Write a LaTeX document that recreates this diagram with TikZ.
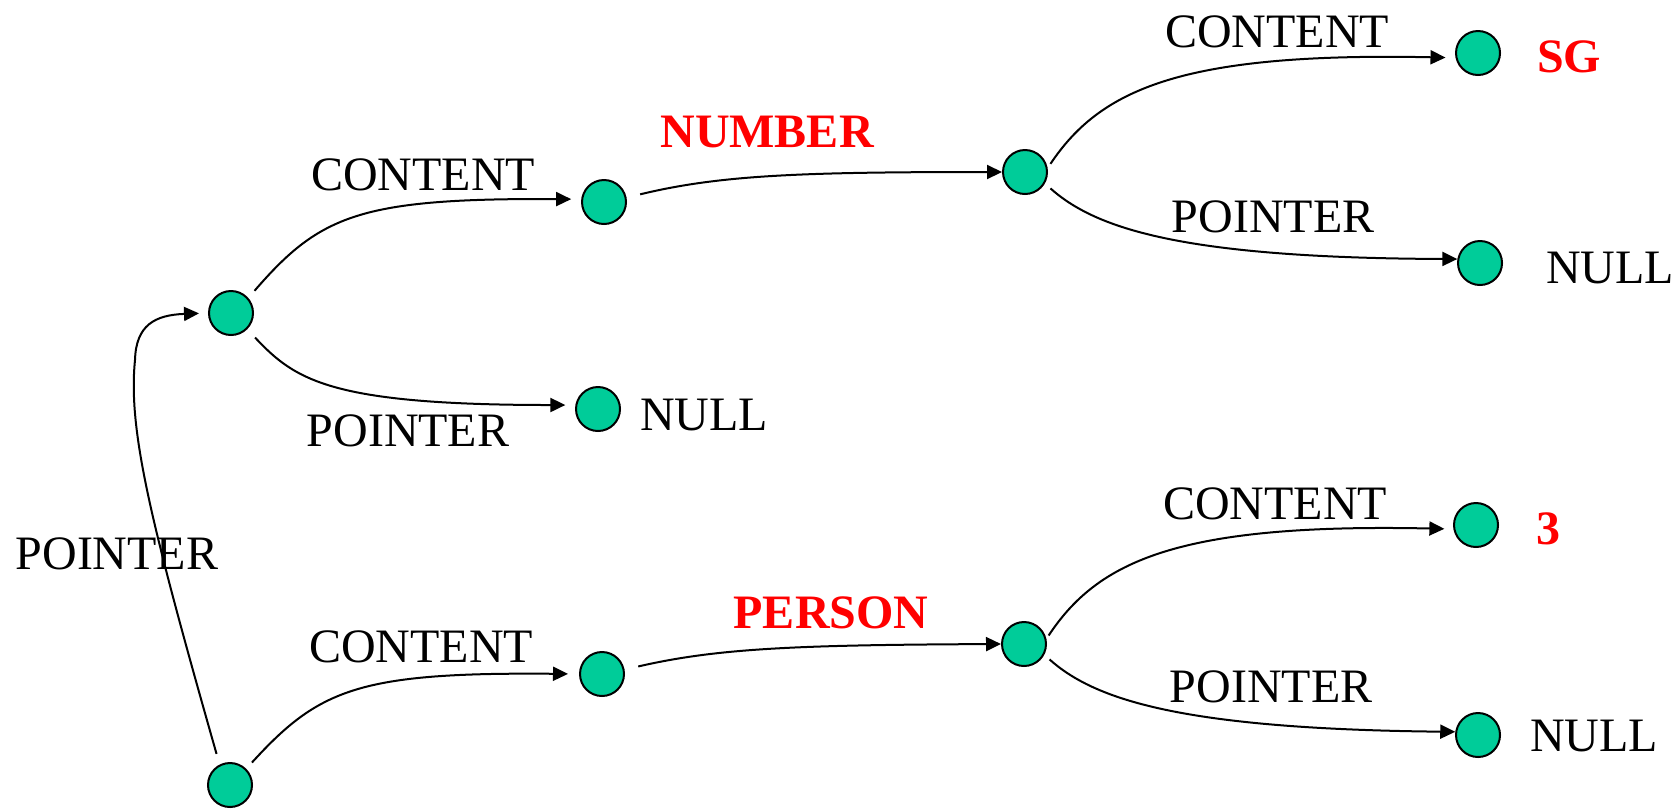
\documentclass[tikz,border=0pt]{standalone}
\usepackage{fontspec}
\setmainfont{Liberation Serif}
\usetikzlibrary{arrows.meta}
\definecolor{nodegreen}{RGB}{0,204,153}
\definecolor{lblred}{RGB}{255,0,0}
\begin{document}
\begin{tikzpicture}[x=0.5pt,y=-0.5pt,
  dot/.style={circle,draw=black,line width=1pt,fill=nodegreen,minimum size=22pt,inner sep=0pt},
  lbl/.style={inner sep=0pt,font=\fontsize{24}{28}\selectfont},
  redlbl/.style={inner sep=0pt,text=lblred,font=\fontsize{24}{28}\selectfont\bfseries},
  conn/.style={line width=1pt,-{Triangle[length=7.5pt,width=7pt]}}]
\path[use as bounding box] (0,0) rectangle (1679,810);

% nodes
\node[dot] (A) at (231,313) {};
\node[dot] (B) at (230,785) {};
\node[dot] (C) at (604,202) {};
\node[dot] (D) at (598,409) {};
\node[dot] (E) at (1025,172) {};
\node[dot] (F) at (1478,53) {};
\node[dot] (G) at (1480,263) {};
\node[dot] (H) at (602,674) {};
\node[dot] (I) at (1024,644) {};
\node[dot] (J) at (1476,525) {};
\node[dot] (K) at (1478,735) {};

% labels
\node[lbl] (lPtrLeft) at (117,554) {POINTER};
\node[lbl] (lContAC) at (423,175) {CONTENT};
\node[lbl] (lPtrAD) at (408,431) {POINTER};
\node[lbl] (lNullD) at (704,415) {NULL};
\node[redlbl] (lNumber) at (767,132) {NUMBER};
\node[lbl] (lContEF) at (1277,32) {CONTENT};
\node[redlbl] (lSG) at (1569,57) {SG};
\node[lbl] (lPtrEG) at (1273,217) {POINTER};
\node[lbl] (lNullG) at (1610,268) {NULL};
\node[lbl] (lContBH) at (421,647) {CONTENT};
\node[redlbl] (lPerson) at (831,613) {PERSON};
\node[lbl] (lContIJ) at (1275,504) {CONTENT};
\node[redlbl] (lThree) at (1548,529) {3};
\node[lbl] (lPtrIK) at (1271,687) {POINTER};
\node[lbl] (lNullK) at (1594,736) {NULL};

% connectors
\draw[conn,shorten <=5.5pt,shorten >=4.5pt] (B.117) .. controls (150,520) and (128,430) .. (135,360) .. controls (136,325) and (155,315) .. (A.180);
\draw[conn,shorten <=4.7pt,shorten >=5pt] (A.41) .. controls (320,215) and (360,198) .. (C.173);
\draw[conn,shorten <=5.7pt,shorten >=5pt] (A.-45) .. controls (295,380) and (330,405) .. (D.170);
\draw[conn,shorten <=7pt] (C.11) .. controls (720,175) and (800,172) .. (E.180);
\draw[conn,shorten <=2.5pt,shorten >=5pt] (E.10) .. controls (1100,90) and (1180,52) .. (F.192);
\draw[conn,shorten <=3.7pt] (E.-30) .. controls (1095,228) and (1180,258) .. (G.170);
\draw[conn,shorten <=4.2pt,shorten >=5.5pt] (B.45) .. controls (319,689) and (359,672) .. (H.180);
\draw[conn,shorten <=7pt] (H.11) .. controls (718,648) and (798,645) .. (I.180);
\draw[conn,shorten <=2pt,shorten >=4.5pt] (I.13) .. controls (1098,561) and (1178,523) .. (J.190);
\draw[conn,shorten <=3.5pt] (I.-28) .. controls (1094,699) and (1179,729) .. (K.172);
\end{tikzpicture}
\end{document}
